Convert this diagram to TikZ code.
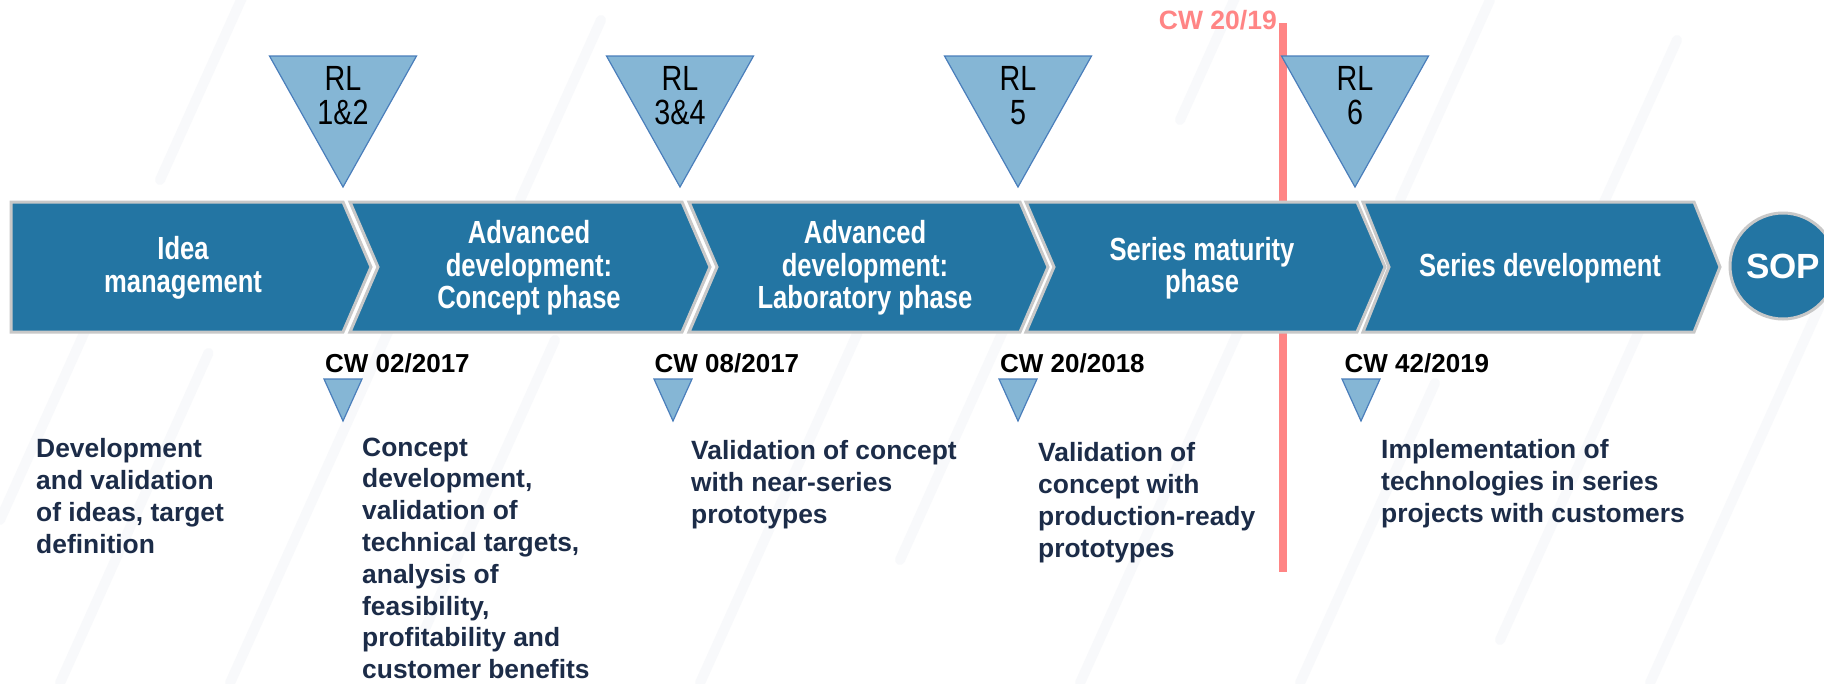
\documentclass[tikz,border=0pt]{standalone}
\usepackage{fontspec}
\setmainfont{Liberation Sans}
\newfontfamily\narrowfont[FakeStretch=0.8]{Liberation Sans}
\newfontfamily\rlfont[FakeStretch=0.82]{Liberation Sans}
\definecolor{chev}{RGB}{35,117,163}
\definecolor{chevline}{RGB}{200,200,200}
\definecolor{trifill}{RGB}{133,182,213}
\definecolor{triline}{RGB}{74,126,187}
\definecolor{navy}{RGB}{28,44,72}
\definecolor{salmon}{RGB}{255,133,133}
\definecolor{stripecol}{RGB}{248,249,251}
\tikzset{
  chevron/.style={fill=chev, draw=chevline, line width=3pt, line join=miter},
  bigtri/.style={fill=trifill, draw=triline, line width=1.2pt, line join=miter},
  smalltri/.style={fill=trifill, draw=triline, line width=1.2pt, line join=miter},
  phase/.style={text=white, align=center, inner sep=0pt, font=\narrowfont\bfseries\fontsize{32}{32.5}\selectfont},
  rltext/.style={text=black, align=center, inner sep=0pt, anchor=north, font=\rlfont\fontsize{35}{34}\selectfont},
  cwlabel/.style={text=black, inner sep=0pt, anchor=base west, font=\bfseries\fontsize{26}{30}\selectfont},
  desc/.style={text=navy, align=left, inner sep=0pt, anchor=north west, font=\bfseries\fontsize{26.4}{31.8}\selectfont},
  bgstripe/.style={draw=stripecol, line width=10pt, line cap=round},
  nowline/.style={draw=salmon, line width=8pt}
}
\begin{document}
\begin{tikzpicture}[x=1pt,y=-1pt]
\clip (0,0) rectangle (1824,683);
\fill[white] (0,0) rectangle (1824,683);
% faint background stripes
\foreach \xa/\ya/\len in {0/520/260, 60/683/330, 230/683/400, 420/640/300, 700/683/350, 900/560/260, 1080/683/420, 1300/683/300, 1500/640/380, 1650/683/420, 1560/300/260, 1400/200/200, 520/200/180, 160/180/200, 1180/120/160}{
  \draw[bgstripe] (\xa,\ya) -- ++(0.45*\len,-\len);
}
% current week line
\coordinate (nowtop) at (1283,23);
\coordinate (nowbot) at (1283,572);
\draw[nowline] (nowtop) -- (nowbot);
\node[text=salmon, inner sep=0pt, anchor=base east, font=\bfseries\fontsize{26.5}{30}\selectfont] (now) at (1277,29.5) {CW 20/19};
% chevrons
\path[chevron] (11,202) -- (343,202) -- (371,267) -- (343,332) -- (11,332) -- cycle;
\path[chevron] (350,202) -- (682,202) -- (710,267) -- (682,332) -- (350,332) -- (378,267) -- cycle;
\path[chevron] (689,202) -- (1020,202) -- (1048,267) -- (1020,332) -- (689,332) -- (717,267) -- cycle;
\path[chevron] (1026,202) -- (1357,202) -- (1385,267) -- (1357,332) -- (1026,332) -- (1054,267) -- cycle;
\path[chevron] (1363,202) -- (1694,202) -- (1720,267) -- (1694,332) -- (1363,332) -- (1389,267) -- cycle;
\node[phase] (p1) at (183,268) {Idea\\management};
\node[phase] (p2) at (529,268) {Advanced\\development:\\Concept phase};
\node[phase] (p3) at (865,268) {Advanced\\development:\\Laboratory phase};
\node[phase] (p4) at (1202,268) {Series maturity\\phase};
\node[phase] (p5) at (1540,268) {Series development};
% SOP
\node[circle, minimum size=106pt, inner sep=0pt, fill=chev, draw=chevline, line width=3pt, text=white, font=\bfseries\fontsize{35}{40}\selectfont] (sop) at (1783,266) {SOP};
% big RL triangles
\path[bigtri] (269.5,56) -- (416.5,56) -- (343,187) -- cycle;
\path[bigtri] (606.5,56) -- (753.5,56) -- (680,187) -- cycle;
\path[bigtri] (944.5,56) -- (1091.5,56) -- (1018,187) -- cycle;
\path[bigtri] (1281.5,56) -- (1428.5,56) -- (1355,187) -- cycle;
\node[rltext] (rl1) at (343,66.5) {RL\\1\&2};
\node[rltext] (rl2) at (680,66.5) {RL\\3\&4};
\node[rltext] (rl3) at (1018,66.5) {RL\\5};
\node[rltext] (rl4) at (1355,66.5) {RL\\6};
% milestone dates
\node[cwlabel] (cw1) at (325,372) {CW 02/2017};
\node[cwlabel] (cw2) at (654.5,372) {CW 08/2017};
\node[cwlabel] (cw3) at (1000,372) {CW 20/2018};
\node[cwlabel] (cw4) at (1344.5,372) {CW 42/2019};
\path[smalltri] (324,379) -- (362,379) -- (343,421) -- cycle;
\path[smalltri] (654,379) -- (692,379) -- (673,421) -- cycle;
\path[smalltri] (999,379) -- (1037,379) -- (1018,421) -- cycle;
\path[smalltri] (1342,379) -- (1380,379) -- (1361,421) -- cycle;
% descriptions
\node[desc] (d1) at (36,438.5) {Development\\and validation\\of ideas, target\\definition};
\node[desc] (d2) at (362,437.5) {Concept\\development,\\validation of\\technical targets,\\analysis of\\feasibility,\\profitability and\\customer benefits};
\node[desc] (d3) at (691,440.5) {Validation of concept\\with near-series\\prototypes};
\node[desc] (d4) at (1038,442.5) {Validation of\\concept with\\production-ready\\prototypes};
\node[desc] (d5) at (1381,439.5) {Implementation of\\technologies in series\\projects with customers};
\end{tikzpicture}
\end{document}
